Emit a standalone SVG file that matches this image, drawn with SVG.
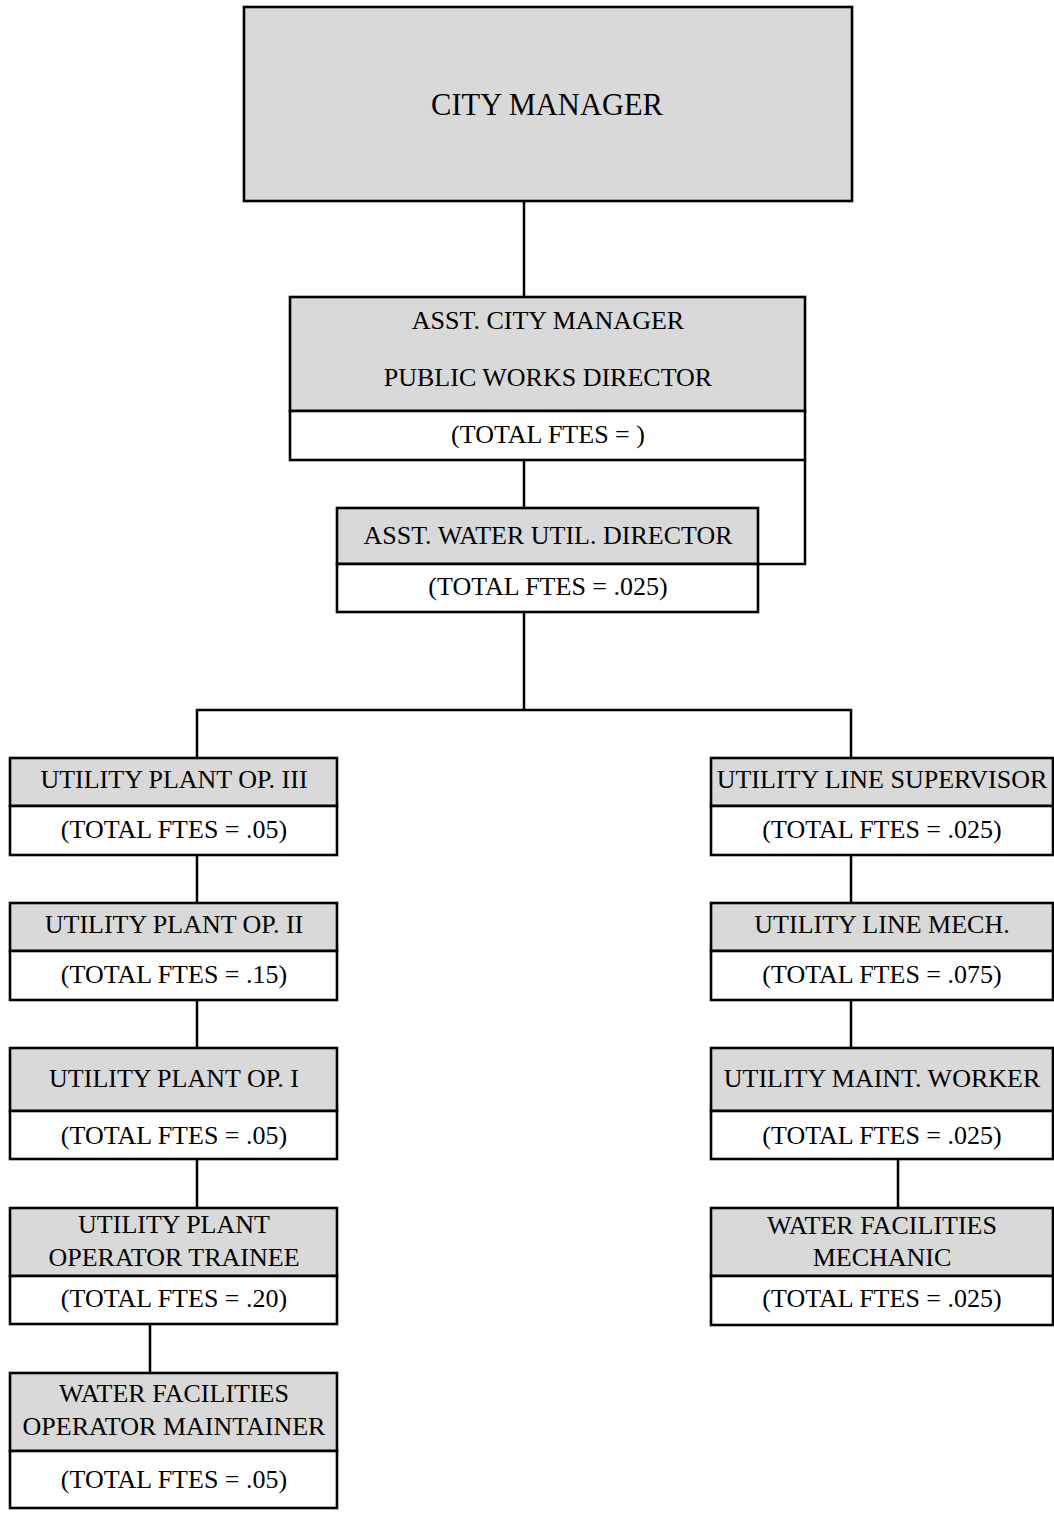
<svg xmlns="http://www.w3.org/2000/svg" width="1054" height="1516" viewBox="0 0 1054 1516">
  <style>
    .head { fill: #d9d9d9; stroke: #000; stroke-width: 2.6; }
    .foot { fill: #fff; stroke: #000; stroke-width: 2.6; }
    .link { fill: none; stroke: #000; stroke-width: 2.5; }
    text { font-family: "Liberation Serif", "Times New Roman", serif; font-size: 26px; fill: #000; text-anchor: middle; }
    .big { font-size: 30.5px; }
  </style>
  <rect width="1054" height="1516" fill="#fff"/>

  <g id="connectors">
    <path class="link" d="M524 201 V297"/>
    <path class="link" d="M524 460 V508"/>
    <path class="link" d="M805 460 V564 H758"/>
    <path class="link" d="M524 612 V710 M197 758 V710 H851 V758"/>
    <path class="link" d="M197 855 V903 M197 1000 V1048 M197 1160 V1208 M150 1325 V1373"/>
    <path class="link" d="M851 855 V903 M851 1000 V1048 M898 1160 V1208"/>
  </g>

  <g id="city-manager">
    <rect class="head" x="244" y="7" width="608" height="194"/>
    <text class="big" x="547" y="115">CITY MANAGER</text>
  </g>

  <g id="asst-city-manager">
    <rect class="head" x="290" y="297" width="515" height="114"/>
    <rect class="foot" x="290" y="411" width="515" height="49"/>
    <text x="548" y="329">ASST. CITY MANAGER</text>
    <text x="548" y="386">PUBLIC WORKS DIRECTOR</text>
    <text x="548" y="443">(TOTAL FTES = )</text>
  </g>

  <g id="asst-water-util-director">
    <rect class="head" x="337" y="508" width="421" height="56"/>
    <rect class="foot" x="337" y="564" width="421" height="48"/>
    <text x="548" y="544">ASST. WATER UTIL. DIRECTOR</text>
    <text x="548" y="595">(TOTAL FTES = .025)</text>
  </g>

  <g id="plant-op-3">
    <rect class="head" x="10" y="758" width="327" height="48"/>
    <rect class="foot" x="10" y="806" width="327" height="49"/>
    <text x="174" y="788">UTILITY PLANT OP. III</text>
    <text x="174" y="838">(TOTAL FTES = .05)</text>
  </g>

  <g id="plant-op-2">
    <rect class="head" x="10" y="903" width="327" height="48"/>
    <rect class="foot" x="10" y="951" width="327" height="49"/>
    <text x="174" y="933">UTILITY PLANT OP. II</text>
    <text x="174" y="983">(TOTAL FTES = .15)</text>
  </g>

  <g id="plant-op-1">
    <rect class="head" x="10" y="1048" width="327" height="63"/>
    <rect class="foot" x="10" y="1111" width="327" height="48"/>
    <text x="174" y="1087">UTILITY PLANT OP. I</text>
    <text x="174" y="1144">(TOTAL FTES = .05)</text>
  </g>

  <g id="plant-op-trainee">
    <rect class="head" x="10" y="1208" width="327" height="68"/>
    <rect class="foot" x="10" y="1276" width="327" height="48"/>
    <text x="174" y="1233">UTILITY PLANT</text>
    <text x="174" y="1266">OPERATOR TRAINEE</text>
    <text x="174" y="1307">(TOTAL FTES = .20)</text>
  </g>

  <g id="facilities-operator-maintainer">
    <rect class="head" x="10" y="1373" width="327" height="78"/>
    <rect class="foot" x="10" y="1451" width="327" height="57"/>
    <text x="174" y="1402">WATER FACILITIES</text>
    <text x="174" y="1435">OPERATOR MAINTAINER</text>
    <text x="174" y="1488">(TOTAL FTES = .05)</text>
  </g>

  <g id="line-supervisor">
    <rect class="head" x="711" y="758" width="342" height="48"/>
    <rect class="foot" x="711" y="806" width="342" height="49"/>
    <text x="882" y="788">UTILITY LINE SUPERVISOR</text>
    <text x="882" y="838">(TOTAL FTES = .025)</text>
  </g>

  <g id="line-mech">
    <rect class="head" x="711" y="903" width="342" height="48"/>
    <rect class="foot" x="711" y="951" width="342" height="49"/>
    <text x="882" y="933">UTILITY LINE MECH.</text>
    <text x="882" y="983">(TOTAL FTES = .075)</text>
  </g>

  <g id="maint-worker">
    <rect class="head" x="711" y="1048" width="342" height="63"/>
    <rect class="foot" x="711" y="1111" width="342" height="48"/>
    <text x="882" y="1087">UTILITY MAINT. WORKER</text>
    <text x="882" y="1144">(TOTAL FTES = .025)</text>
  </g>

  <g id="facilities-mechanic">
    <rect class="head" x="711" y="1208" width="342" height="68"/>
    <rect class="foot" x="711" y="1276" width="342" height="49"/>
    <text x="882" y="1234">WATER FACILITIES</text>
    <text x="882" y="1266">MECHANIC</text>
    <text x="882" y="1307">(TOTAL FTES = .025)</text>
  </g>
</svg>
